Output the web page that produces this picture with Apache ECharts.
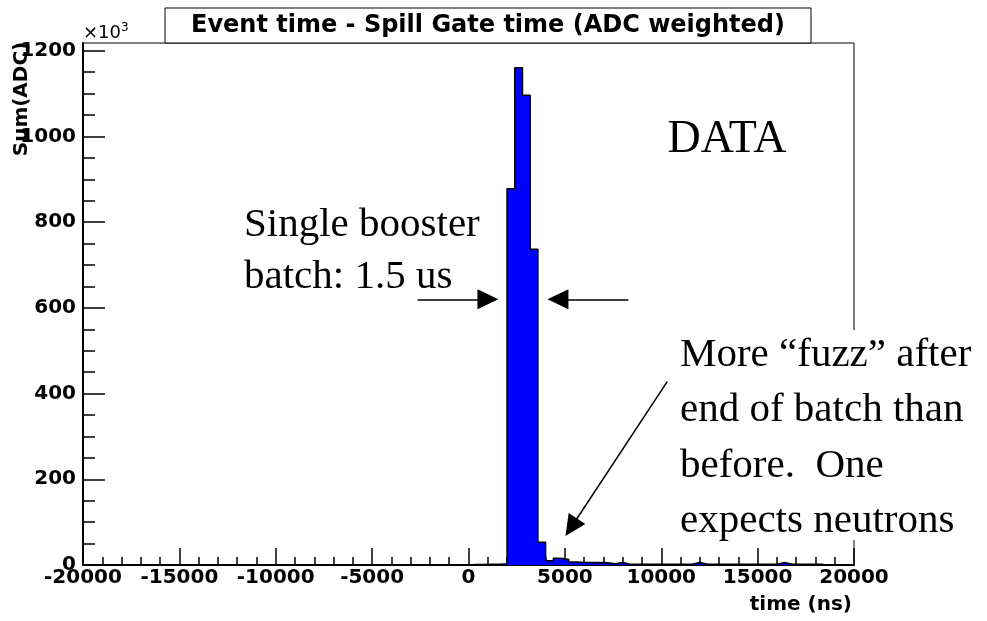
<!DOCTYPE html>
<html>
<head>
<meta charset="utf-8">
<script src="https://cdn.jsdelivr.net/npm/echarts@6/dist/echarts.min.js"></script>
<style>html,body{margin:0;background:#fff}#main{width:987px;height:621px}</style>
</head>
<body>
<div id="main"></div>
<script>
// histogram bins: 400 ns wide, starting at 0 ns; Sum(ADC) in units of 10^3
const binWidth = 400;
const firstEdge = 0;
const sumAdc = [1, 1, 1.5, 1.5, 3, 878, 1160, 1096, 737, 53,
  10, 16, 13, 7, 6, 6, 6, 5, 3, 6,
  2, 2, 2, 2, 2, 2, 2, 2, 2, 6,
  2, 2, 2, 2, 2, 2, 2, 2, 2, 2,
  6, 2, 2, 2, 2, 2];

const yMajor = [0, 200, 400, 600, 800, 1000, 1200];
const yMinor = [50, 100, 150, 250, 300, 350, 450, 500, 550, 650, 700, 750,
  850, 900, 950, 1050, 1100, 1150];

// annotation arrows, in data units (ns, 10^3); the end is the arrow head's centre
const arrowFrom = [[-2640, 620], [8290, 620], [10310, 428]];
const arrowTo = [[1010, 620], [4640, 620], [5330, 88]];

const rightNote = ['More \u201cfuzz\u201d after', 'end of batch than', 'before.  One', 'expects neutrons'];

const steps = [[firstEdge, 0]];
sumAdc.forEach((v, i) => steps.push([firstEdge + i * binWidth, v]));
steps.push([firstEdge + sumAdc.length * binWidth, 0]);

const axisFont = {fontFamily: 'DejaVu Sans', fontWeight: 'bold', fontSize: 20, color: '#000', formatter: v => String(v)};
const serif = 'Liberation Serif';

const chart = echarts.init(document.getElementById('main'));

const texts = [
  {type: 'text', x: 727, y: 140, style: {text: 'DATA', font: '46px ' + serif, fill: '#000', align: 'center', verticalAlign: 'middle'}},
  {type: 'text', x: 244, y: 225, style: {text: 'Single booster', font: '41px ' + serif, fill: '#000', verticalAlign: 'middle'}},
  {type: 'text', x: 244, y: 277, style: {text: 'batch: 1.5 us', font: '41px ' + serif, fill: '#000', verticalAlign: 'middle'}},
  {type: 'rect', shape: {x: 672, y: 330, width: 320, height: 210}, style: {fill: '#fff'}},
];
rightNote.forEach((t, i) => texts.push({
  type: 'text', x: 680, y: 355 + i * 55.5,
  style: {text: t, font: '41px ' + serif, fill: '#000', verticalAlign: 'middle'}
}));

chart.setOption({
  animation: false,
  grid: {left: 83, right: 133, top: 43, bottom: 56, show: true, borderColor: '#000', borderWidth: 1, backgroundColor: 'transparent'},
  xAxis: {
    type: 'value', min: -20000, max: 20000, interval: 5000,
    axisLine: {onZero: false, lineStyle: {color: '#000', width: 2}},
    axisTick: {inside: true, length: 17, lineStyle: {color: '#000', width: 1.5}},
    minorTick: {show: true, splitNumber: 5, length: 8, lineStyle: {color: '#000', width: 1.5}},
    axisLabel: Object.assign({margin: 3}, axisFont),
    splitLine: {show: false}
  },
  yAxis: [{
    type: 'value', min: 0, max: 1218,
    axisLine: {show: true, onZero: false, lineStyle: {color: '#000', width: 2}},
    axisTick: {inside: true, length: 22, customValues: yMajor, lineStyle: {color: '#000', width: 1.5}},
    axisLabel: Object.assign({margin: 7, customValues: yMajor}, axisFont),
    splitLine: {show: false}
  }, {
    type: 'value', min: 0, max: 1218, position: 'left',
    axisLine: {show: false, onZero: false},
    axisTick: {inside: true, length: 12, customValues: yMinor, lineStyle: {color: '#000', width: 1.5}},
    axisLabel: {show: false},
    splitLine: {show: false}
  }],
  series: [{
    type: 'line',
    step: 'end',
    data: steps,
    symbol: 'none',
    silent: true,
    lineStyle: {color: '#000', width: 1.5},
    areaStyle: {color: '#0000ff', opacity: 1},
    markLine: {
      silent: true,
      animation: false,
      label: {show: false},
      lineStyle: {color: '#000', width: 1.5, type: 'solid'},
      data: arrowFrom.map((p, i) => [
        {coord: p, symbol: 'none'},
        {coord: arrowTo[i], symbol: 'triangle', symbolSize: [20, 21]}
      ])
    }
  }],
  graphic: [
    {type: 'rect', z: 100, shape: {x: 165, y: 8, width: 646, height: 35}, style: {fill: '#fff', stroke: '#000', lineWidth: 1}},
    {type: 'text', z: 101, x: 488, y: 26, style: {text: 'Event time - Spill Gate time (ADC weighted)', font: 'bold 24px "DejaVu Sans"', fill: '#000', align: 'center', verticalAlign: 'middle'}},
    {type: 'text', z: 100, x: 83, y: 33, style: {
      text: '{b|\u00d710}{s|3}', verticalAlign: 'middle',
      rich: {b: {fontFamily: 'DejaVu Sans', fontSize: 18, color: '#000'}, s: {fontFamily: 'DejaVu Sans', fontSize: 12, color: '#000', verticalAlign: 'top', padding: [0, 0, 10, 0]}}
    }},
    {type: 'text', z: 100, x: 22, y: 99, rotation: Math.PI / 2, style: {text: 'Sum(ADC)', font: 'bold 20px "DejaVu Sans"', fill: '#000', align: 'center', verticalAlign: 'middle'}},
    {type: 'text', z: 100, x: 852, y: 605, style: {text: 'time (ns)', font: 'bold 20px "DejaVu Sans"', fill: '#000', align: 'right', verticalAlign: 'middle'}},
    {type: 'group', z: 100, children: texts}
  ]
});
</script>
</body>
</html>
